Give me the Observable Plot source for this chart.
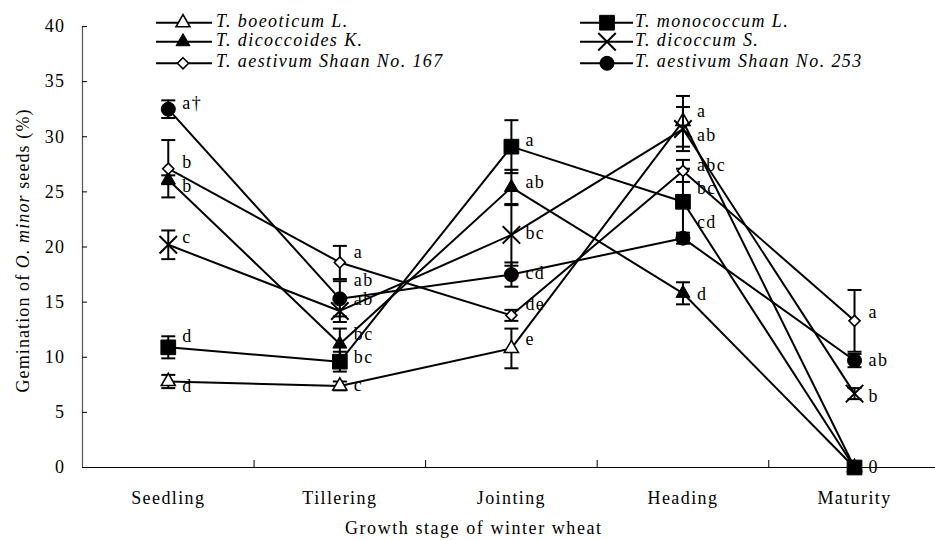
<!DOCTYPE html>
<html><head><meta charset="utf-8">
<script src="https://cdn.jsdelivr.net/npm/d3@7"></script>
<script src="https://cdn.jsdelivr.net/npm/@observablehq/plot@0.6"></script>
<style>body{margin:0;background:#fff} #chart{width:935px;height:540px}</style>
</head><body><div id="chart"></div>
<script>
// ---- data ----
const stages = ["Seedling", "Tillering", "Jointing", "Heading", "Maturity"];
const seriesNames = ["T. boeoticum L.", "T. monococcum L.", "T. dicoccoides K.", "T. dicoccum S.", "T. aestivum Shaan No. 167", "T. aestivum Shaan No. 253"];
const yTicks = [0, 5, 10, 15, 20, 25, 30, 35, 40];

const boeoticumVals = [7.8, 7.4, 10.8, 31.4, 0];
const boeoticumErr  = [0.6, 0.4, 1.8, 2.3, 0];
const boeoticumLab  = ["d", "c", "e", "a", ""];
const boeoticumLabY = [7.4, 7.5, 11.6, 32.3, 0];

const monococcumVals = [10.9, 9.6, 29.1, 24.1, 0];
const monococcumErr  = [1.0, 0.9, 2.4, 3.0, 0];
const monococcumLab  = ["d", "bc", "a", "bc", "0"];
const monococcumLabY = [11.9, 10.0, 29.7, 25.3, 0];

const dicoccoidesVals = [26.1, 11.2, 25.4, 15.8, 0];
const dicoccoidesErr  = [0.4, 1.4, 1.6, 1.0, 0];
const dicoccoidesLab  = ["b", "bc", "ab", "d", ""];
const dicoccoidesLabY = [25.5, 12.1, 25.9, 15.75, 0];

const dicoccumVals = [20.2, 14.2, 21.1, 30.7, 6.7];
const dicoccumErr  = [1.3, 1.0, 2.8, 2.0, 0.5];
const dicoccumLab  = ["c", "ab", "bc", "ab", "b"];
const dicoccumLabY = [20.9, 15.24, 21.25, 30.1, 6.5];

const shaan167Vals = [27.1, 18.6, 13.8, 26.9, 13.3];
const shaan167Err  = [2.6, 1.5, 0.5, 1.0, 2.8];
const shaan167Lab  = ["b", "a", "de", "abc", "a"];
const shaan167LabY = [27.7, 19.5, 14.8, 27.4, 14.1];

const shaan253Vals = [32.5, 15.3, 17.5, 20.8, 9.7];
const shaan253Err  = [0.8, 1.6, 1.1, 0.5, 0.6];
const shaan253Lab  = ["a†", "ab", "cd", "cd", "ab"];
const shaan253LabY = [33.0, 16.96, 17.6, 22.25, 9.7];

// ---- layout / style ----
const W = 935, H = 540, mL = 82, mR = 0, mT = 26, mB = 73;
const xDomain = [-0.5, 4.472];
const FONT = '"Liberation Serif","Times New Roman",serif';
const FS = 18;
const LS = "1.4px";

const capSymbol = {draw(ctx, size) { const r = Math.sqrt(size / Math.PI); ctx.moveTo(-r, 0); ctx.lineTo(r, 0); }};

const styles = [
  {symbol: "triangle", fill: "white", r: 5.2, sw: 1.6, d3sym: d3.symbolTriangle},
  {symbol: "square", fill: "black", r: 8.3, sw: 1, d3sym: d3.symbolSquare},
  {symbol: "triangle", fill: "black", r: 5.2, sw: 1, d3sym: d3.symbolTriangle},
  {symbol: "times", fill: "none", r: 8, sw: 2, d3sym: d3.symbolTimes},
  {symbol: "diamond2", fill: "white", r: 5, sw: 1.6, d3sym: d3.symbolDiamond2},
  {symbol: "circle", fill: "black", r: 7, sw: 1, d3sym: d3.symbolCircle}
];

const seriesData = [
  [boeoticumVals, boeoticumErr, boeoticumLab, boeoticumLabY],
  [monococcumVals, monococcumErr, monococcumLab, monococcumLabY],
  [dicoccoidesVals, dicoccoidesErr, dicoccoidesLab, dicoccoidesLabY],
  [dicoccumVals, dicoccumErr, dicoccumLab, dicoccumLabY],
  [shaan167Vals, shaan167Err, shaan167Lab, shaan167LabY],
  [shaan253Vals, shaan253Err, shaan253Lab, shaan253LabY]
];

const marks = [];
const allRows = [];
seriesData.forEach(([vals, err, lab, labY], s) => {
  const rows = stages.map((st, j) => ({s, j, v: vals[j], e: err[j], lab: lab[j], ly: labY[j]}));
  allRows.push(...rows);
  const st = styles[s];
  const er = rows.filter(d => d.e > 0);
  marks.push(
    Plot.line(rows, {x: "j", y: "v", stroke: "black", strokeWidth: 2}),
    Plot.ruleX(er, {x: "j", y1: d => d.v - d.e, y2: d => d.v + d.e, stroke: "black", strokeWidth: 2}),
    Plot.dot(er, {x: "j", y: d => d.v + d.e, symbol: capSymbol, r: 7, stroke: "black", strokeWidth: 2, fill: "none"}),
    Plot.dot(er, {x: "j", y: d => d.v - d.e, symbol: capSymbol, r: 7, stroke: "black", strokeWidth: 2, fill: "none"}),
    Plot.dot(rows, {x: "j", y: "v", symbol: st.symbol, r: st.r, fill: st.fill, stroke: "black", strokeWidth: st.sw})
  );
});

const plotW = W - mL - mR, plotH = H - mT - mB;
const boundaries = stages.slice(1).map((_, i) => i + 0.5);

const chart = Plot.plot({
  width: W, height: H,
  marginLeft: mL, marginRight: mR, marginTop: mT, marginBottom: mB,
  style: {fontFamily: FONT, fontSize: FS + "px", background: "white", color: "black", letterSpacing: LS},
  x: {domain: xDomain, axis: null},
  y: {domain: [0, 40], axis: null},
  marks: [
    Plot.ruleY([0], {stroke: "black", strokeWidth: 1}),
    Plot.ruleX([xDomain[0]], {stroke: "#555", strokeWidth: 1.2}),
    Plot.tickY(yTicks, {y: d => d, insetRight: plotW - 5, stroke: "black"}),
    Plot.text(yTicks, {y: d => d, frameAnchor: "left", dx: -17, textAnchor: "end", fontSize: FS}),
    Plot.tickX(boundaries, {x: d => d, insetTop: plotH - 7, stroke: "black"}),
    Plot.text(stages, {x: (d, i) => i, text: d => d, frameAnchor: "bottom", dy: 36, fontSize: FS}),
    ...marks,
    Plot.text(allRows.filter(d => d.lab), {x: "j", y: "ly", text: "lab", dx: 14, textAnchor: "start", fontSize: FS})
  ]
});
document.getElementById("chart").appendChild(chart);

const svg = d3.select(chart);
// axis titles
svg.append("text").attr("x", 473).attr("y", 530).attr("text-anchor", "middle")
  .attr("dominant-baseline", "middle").attr("textLength", 256).attr("lengthAdjust", "spacing")
  .style("font-family", FONT).style("font-size", FS + "px").style("letter-spacing", "0px")
  .text("Growth stage of winter wheat");
const yt = svg.append("text").attr("transform", "translate(25,251) rotate(-90)").attr("text-anchor", "middle")
  .attr("dominant-baseline", "middle").attr("textLength", 283).attr("lengthAdjust", "spacing")
  .style("font-family", FONT).style("font-size", FS + "px").style("letter-spacing", "0px");
yt.append("tspan").text("Gemination of ");
yt.append("tspan").style("font-style", "italic").text("O. minor");
yt.append("tspan").text(" seeds (%)");

// legend
const legendCols = [{x1: 156, x2: 212, mx: 183, tx: 216}, {x1: 580, x2: 633, mx: 607, tx: 635}];
const legendRowsY = [22.7, 41.7, 63.3];
const lg = svg.append("g");
seriesNames.forEach((name, i) => {
  const col = legendCols[i % 2], y = legendRowsY[Math.floor(i / 2)], st = styles[i];
  lg.append("line").attr("x1", col.x1).attr("x2", col.x2).attr("y1", y).attr("y2", y)
    .attr("stroke", "black").attr("stroke-width", 2);
  lg.append("path").attr("transform", `translate(${col.mx},${y})`)
    .attr("d", d3.symbol(st.d3sym, Math.PI * st.r * st.r)())
    .attr("fill", st.fill).attr("stroke", "black").attr("stroke-width", st.sw);
  lg.append("text").attr("x", col.tx).attr("y", y).attr("dominant-baseline", "middle").attr("text-anchor", "start")
    .style("font-family", FONT).style("font-size", FS + "px").style("font-style", "italic").text(name);
});
</script>
</body></html>
